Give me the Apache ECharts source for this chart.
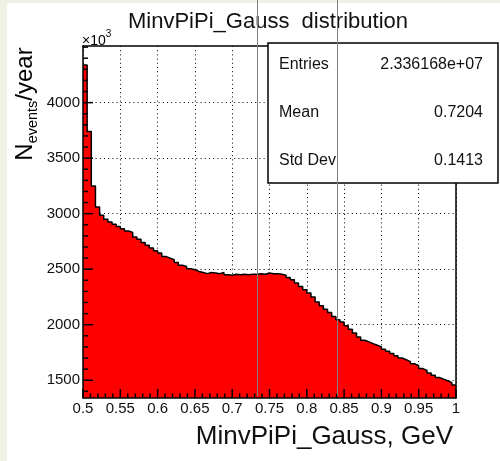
<!DOCTYPE html>
<html><head><meta charset="utf-8">
<script src="https://cdn.jsdelivr.net/npm/echarts@6/dist/echarts.min.js"></script>
<style>html,body{margin:0;padding:0;background:#fff;} #c{width:500px;height:461px;}</style>
</head><body><div id="c"></div>
<script>
// ---- data ----
const histLow = 0.5;
const histHigh = 1.0;
const counts = [
  4340, 3740, 3250, 3060, 2985, 2950, 2925, 2905, 2885, 2865,
  2845, 2830, 2790, 2770, 2740, 2715, 2690, 2665, 2645, 2615,
  2600, 2585, 2560, 2535, 2525, 2505, 2495, 2480, 2470, 2460,
  2470, 2465, 2460, 2470, 2450, 2445, 2455, 2450, 2455, 2450,
  2455, 2455, 2460, 2455, 2465, 2460, 2460, 2455, 2445, 2425,
  2405, 2375, 2345, 2315, 2285, 2250, 2205, 2170, 2140, 2110,
  2075, 2045, 2025, 1990, 1960, 1925, 1890, 1860, 1845, 1830,
  1815, 1800, 1780, 1760, 1740, 1720, 1700, 1685, 1668, 1648,
  1630, 1605, 1588, 1565, 1545, 1525, 1510, 1495, 1478, 1458
];
const yMin = 1340, yMax = 4510;
const yTickValues = [1500, 2000, 2500, 3000, 3500, 4000];
const yMinorValues = [1400,1600,1700,1800,1900,2100,2200,2300,2400,2600,2700,2800,2900,3100,3200,3300,3400,3600,3700,3800,3900,4100,4200,4300,4400,4500];
const xTickStep = 0.05;
const xTickValues = [0.5,0.55,0.6,0.65,0.7,0.75,0.8,0.85,0.9,0.95,1.0];
const xMinorValues = [0.51,0.52,0.53,0.54,0.56,0.57,0.58,0.59,0.61,0.62,0.63,0.64,0.66,0.67,0.68,0.69,
  0.71,0.72,0.73,0.74,0.76,0.77,0.78,0.79,0.81,0.82,0.83,0.84,0.86,0.87,0.88,0.89,0.91,0.92,0.93,0.94,0.96,0.97,0.98,0.99];
const statNames = ['Entries', 'Mean', 'Std Dev'];
const statValues = ['2.336168e+07', '0.7204', '0.1413'];
const titleText = 'MinvPiPi_Gauss  distribution';
const xTitle = 'MinvPiPi_Gauss, GeV';

// ---- build ----
const FONT = "'Liberation Sans', Arial, Helvetica, sans-serif";
const TXT = '#111';
const nb = counts.length;
const bw = (histHigh - histLow) / nb;
const stepData = counts.map((v, i) => [histLow + i * bw, v]);
stepData.push([histHigh, counts[nb - 1]]);

const dotted = { color: '#000', width: 1, type: [1, 3.2] };
const off = { show: false };

const xBase = { type: 'value', min: histLow, max: histHigh, interval: xTickStep, gridIndex: 0 };
const yBase = { type: 'value', min: yMin, max: yMax, gridIndex: 0 };

// inward tick marks drawn through the axes' scales, on top of the fill
function tickSeries(values, isY, len) {
  return {
    type: 'custom', xAxisIndex: 0, yAxisIndex: 0, z: 10, zlevel: 1, silent: true,
    data: values.map(v => isY ? [histLow, v] : [v, yMin]),
    encode: { x: 0, y: 1 },
    renderItem: (params, api) => {
      const p = api.coord([api.value(0), api.value(1)]);
      return { type: 'line',
        shape: isY ? { x1: p[0], y1: p[1], x2: p[0] + len, y2: p[1] }
                   : { x1: p[0], y1: p[1], x2: p[0], y2: p[1] - len },
        style: { stroke: '#000', lineWidth: 1.5 } };
    }
  };
}

const chart = echarts.init(document.getElementById('c'), null, { renderer: 'canvas' });
const statsEls = [];
statNames.forEach((n, i) => {
  statsEls.push({ type: 'text', x: 279, y: 65 + i * 48, z: 101, zlevel: 2,
    style: { text: n, font: '16px ' + FONT, fill: TXT, align: 'left', verticalAlign: 'middle' } });
  statsEls.push({ type: 'text', x: 483, y: 65 + i * 48, z: 101, zlevel: 2,
    style: { text: statValues[i], font: '16px ' + FONT, fill: TXT, align: 'right', verticalAlign: 'middle' } });
});

chart.setOption({
  animation: false,
  backgroundColor: 'transparent',
  grid: { left: 83, right: 44, top: 46, bottom: 63, containLabel: false, outerBoundsMode: 'none', show: false },
  xAxis: [
    Object.assign({}, xBase, { position: 'bottom', z: 5, zlevel: 1,
      axisLine: { show: true, onZero: false, lineStyle: { color: '#000', width: 1.5 } },
      axisTick: off, minorTick: off,
      axisLabel: { show: true, margin: 3, fontSize: 15, fontFamily: FONT, color: TXT,
        formatter: v => String(Math.round(v * 100) / 100) },
      splitLine: off }),
    Object.assign({}, xBase, { position: 'bottom', z: 0,
      axisLine: off, axisTick: off, axisLabel: off, minorTick: off,
      splitLine: { show: true, lineStyle: dotted } }),
    Object.assign({}, xBase, { position: 'top', z: 5, zlevel: 1,
      axisLine: { show: true, onZero: false, lineStyle: { color: '#000', width: 1.5 } },
      axisTick: off, axisLabel: off, splitLine: off })
  ],
  yAxis: [
    Object.assign({}, yBase, { position: 'left', z: 5, zlevel: 1,
      axisLine: { show: true, onZero: false, lineStyle: { color: '#000', width: 1.5 } },
      axisTick: { show: false, customValues: yTickValues },
      axisLabel: { show: true, margin: 3, fontSize: 15, fontFamily: FONT, color: TXT, customValues: yTickValues,
        formatter: v => String(v) },
      splitLine: off }),
    Object.assign({}, yBase, { position: 'left', z: 0,
      axisLine: off, axisLabel: off,
      axisTick: { show: false, customValues: yTickValues },
      splitLine: { show: true, lineStyle: dotted } }),
    Object.assign({}, yBase, { position: 'right', z: 5, zlevel: 1,
      axisLine: { show: true, onZero: false, lineStyle: { color: '#000', width: 1.5 } },
      axisTick: off, axisLabel: off, splitLine: off })
  ],
  series: [{
    type: 'line', xAxisIndex: 0, yAxisIndex: 0, data: stepData, step: 'end',
    showSymbol: false, symbol: 'none', z: 2,
    lineStyle: { color: '#000', width: 1.5 },
    areaStyle: { color: '#ff0000', opacity: 1, origin: 'start' }
  },
  tickSeries(yTickValues, true, 10),
  tickSeries(yMinorValues, true, 5),
  tickSeries(xTickValues, false, 9),
  tickSeries(xMinorValues, false, 4.5)
  ],
  graphic: [
    { type: 'rect', z: 50, shape: { x: 0, y: 0, width: 7, height: 461 }, style: { fill: '#eef1e4' } },
    { type: 'rect', z: 50, shape: { x: 0, y: 0, width: 500, height: 3 }, style: { fill: '#eef1e4' } },
    { type: 'text', x: 268, y: 22, z: 60,
      style: { text: titleText, font: '22px ' + FONT, fill: TXT, align: 'center', verticalAlign: 'middle' } },
    { type: 'text', x: 82, y: 29, z: 60,
      style: { text: '{a|×10}{b|3}', align: 'left', verticalAlign: 'top',
        rich: { a: { fontSize: 14, fontFamily: FONT, color: TXT, lineHeight: 24 },
                b: { fontSize: 10, fontFamily: FONT, color: TXT, lineHeight: 10, verticalAlign: 'top' } } } },
    { type: 'text', x: 25, y: 104, z: 60, rotation: Math.PI / 2,
      style: { text: '{n|N}{s|events}{n|/year}', align: 'center', verticalAlign: 'middle',
        rich: { n: { fontSize: 24, fontFamily: FONT, color: TXT, lineHeight: 30 },
                s: { fontSize: 14.5, fontFamily: FONT, color: TXT, lineHeight: 17, verticalAlign: 'bottom' } } } },
    { type: 'text', x: 453, y: 437, z: 60,
      style: { text: xTitle, font: '26px ' + FONT, fill: TXT, align: 'right', verticalAlign: 'middle' } },
    { type: 'rect', z: 100, zlevel: 2, shape: { x: 268, y: 43, width: 230, height: 140 },
      style: { fill: '#fff', stroke: '#000', lineWidth: 1.5 } },
    ...statsEls,
    { type: 'line', z: 200, zlevel: 2, shape: { x1: 257.5, y1: 0, x2: 257.5, y2: 396 }, style: { stroke: '#808080', lineWidth: 1 } },
    { type: 'line', z: 200, zlevel: 2, shape: { x1: 337.5, y1: 0, x2: 337.5, y2: 396 }, style: { stroke: '#808080', lineWidth: 1 } }
  ]
});
</script>
</body></html>
